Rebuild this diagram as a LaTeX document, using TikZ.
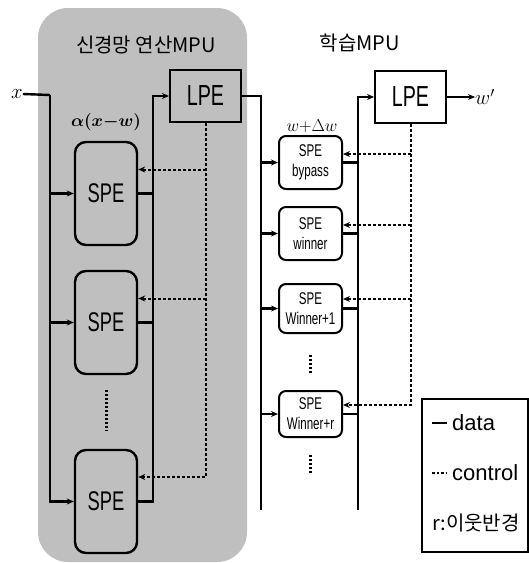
\documentclass[tikz,border=0pt]{standalone}
\usepackage{amsmath}
\usepackage{fontspec}
\setmainfont{Liberation Sans}
\newfontfamily\cond[FakeStretch=0.68]{Liberation Sans}
\newfontfamily\kr{Noto Sans CJK KR}
\usetikzlibrary{arrows.meta}
\begin{document}
\begin{tikzpicture}[x=1pt,y=-1pt,
  data/.style={line width=2.4pt},
  ctrl/.style={line width=2pt,dash pattern=on 3pt off 2pt},
  tip/.style={-{Stealth[length=7pt,width=6pt]}},
  lspe/.style={draw,line width=2.4pt,rounded corners=11pt,minimum width=62pt,minimum height=103pt,inner sep=0pt,font=\cond\fontsize{27}{30}\selectfont},
  rspe/.style={draw,line width=2pt,rounded corners=7pt,minimum width=63pt,inner sep=0pt,align=center,font=\cond\fontsize{17}{20}\selectfont},
  lpe/.style={draw,line width=2pt,minimum width=71pt,minimum height=52pt,inner sep=0pt,font=\cond\fontsize{29}{30}\selectfont},
  title/.style={font=\kr\fontsize{20}{22}\selectfont},
  lbl/.style={inner sep=0pt},
  dots/.style={line width=3pt,dash pattern=on 2pt off 2pt},
  legtext/.style={anchor=west,inner sep=0pt,font=\fontsize{22}{24}\selectfont}]
\useasboundingbox (0,0) rectangle (529,563);
% panel
\fill[gray!50,rounded corners=30pt] (38,8) rectangle (247,562);
% titles
\node[title] (t1) at (146,45) {신경망 연산MPU};
\node[title] (t2) at (360,43) {학습MPU};
% boxes
\node[lpe] (lpe1) at (205.5,96) {LPE};
\node[lpe,fill=white] (lpe2) at (410.5,97) {LPE};
\node[lspe] (s1) at (106,193.5) {SPE};
\node[lspe] (s2) at (106,322.5) {SPE};
\node[lspe] (s3) at (106,501.5) {SPE};
\node[rspe,minimum height=53pt] (r1) at (310.5,162.5) {SPE\\bypass};
\node[rspe,minimum height=53pt] (r2) at (310.5,233.5) {SPE\\winner};
\node[rspe,minimum height=49pt] (r3) at (310.5,308.5) {SPE\\Winner+1};
\node[rspe,minimum height=46pt] (r4) at (310.5,414) {SPE\\Winner+r};
% labels
\node[lbl,font=\fontsize{22}{24}\selectfont] (xl) at (17,94) {$x$};
\node[lbl,font=\fontsize{19}{21}\selectfont] (al) at (106,122) {$\boldsymbol{\alpha(x{-}w)}$};
\node[lbl,font=\fontsize{18}{20}\selectfont] (dw) at (312,126) {$w{+}\Delta w$};
\node[lbl,font=\fontsize{22}{24}\selectfont,anchor=west] (wo) at (475,97) {$w'$};
% input x
\coordinate (xa) at (50,95);
\draw[data] (xl.east) -- (xa);
\draw[data,tip] (xa) |- (s3.west);
\draw[data,tip] (xa |- s1.west) -- (s1.west);
\draw[data,tip] (xa |- s2.west) -- (s2.west);
% left bus to LPE
\coordinate (b1) at (153,96);
\draw[data,tip] (s3.east) -| (b1) -- (lpe1.west);
\draw[data] (s1.east) -- (s1.east -| b1);
\draw[data] (s2.east) -- (s2.east -| b1);
% left control
\coordinate (k1) at ([yshift=24pt]s1.east);
\coordinate (k2) at ([yshift=24pt]s2.east);
\coordinate (k3) at ([yshift=24.5pt]s3.east);
\draw[ctrl,tip] (lpe1.south) |- (k3);
\draw[ctrl,tip] (lpe1.south |- k1) -- (k1);
\draw[ctrl,tip] (lpe1.south |- k2) -- (k2);
% right bus from LPE1
\coordinate (rb) at (261,96);
\coordinate (rbe) at (261,510);
\draw[data] (lpe1.east) -- (rb) -- (rbe);
\draw[data,tip] (rb |- r1.west) -- (r1.west);
\draw[data,tip] (rb |- r2.west) -- (r2.west);
\draw[data,tip] (rb |- r3.west) -- (r3.west);
\draw[data,tip] (rb |- r4.west) -- (r4.west);
% bus to LPE2
\coordinate (qb) at (358,97);
\coordinate (qbe) at (358,510);
\draw[data,tip] (qbe) -- (qb) -- (lpe2.west);
\draw[data] (r1.east) -- (r1.east -| qb);
\draw[data] (r2.east) -- (r2.east -| qb);
\draw[data] (r3.east) -- (r3.east -| qb);
\draw[data] (r4.east) -- (r4.east -| qb);
% right control
\coordinate (m1) at ([yshift=8.5pt]r1.east);
\coordinate (m2) at ([yshift=8.5pt]r2.east);
\coordinate (m3) at ([yshift=9.5pt]r3.east);
\coordinate (m4) at ([yshift=9pt]r4.east);
\draw[ctrl,tip] (lpe2.south) |- (m4);
\draw[ctrl,tip] (lpe2.south |- m1) -- (m1);
\draw[ctrl,tip] (lpe2.south |- m2) -- (m2);
\draw[ctrl,tip] (lpe2.south |- m3) -- (m3);
% output
\draw[data,tip] (lpe2.east) -- (wo.west);
% dots
\draw[dots] (106,390) -- (106,431);
\draw[dots] (310,355) -- (310,373);
\draw[dots] (310,455) -- (310,474);
% legend
\node[draw,line width=1.2pt,minimum width=106pt,minimum height=153pt,inner sep=0pt] (leg) at (475,475.5) {};
\draw[line width=1.6pt] (432,423) -- (447,423);
\draw[line width=2pt,dash pattern=on 2.5pt off 2pt] (432,473) -- (447,473);
\node[legtext] (ld) at (452,423) {data};
\node[legtext] (lc) at (452,473) {control};
\node[legtext,font=\kr\fontsize{20}{22}\selectfont] (lr) at (432,523) {r:이웃반경};
\end{tikzpicture}
\end{document}
